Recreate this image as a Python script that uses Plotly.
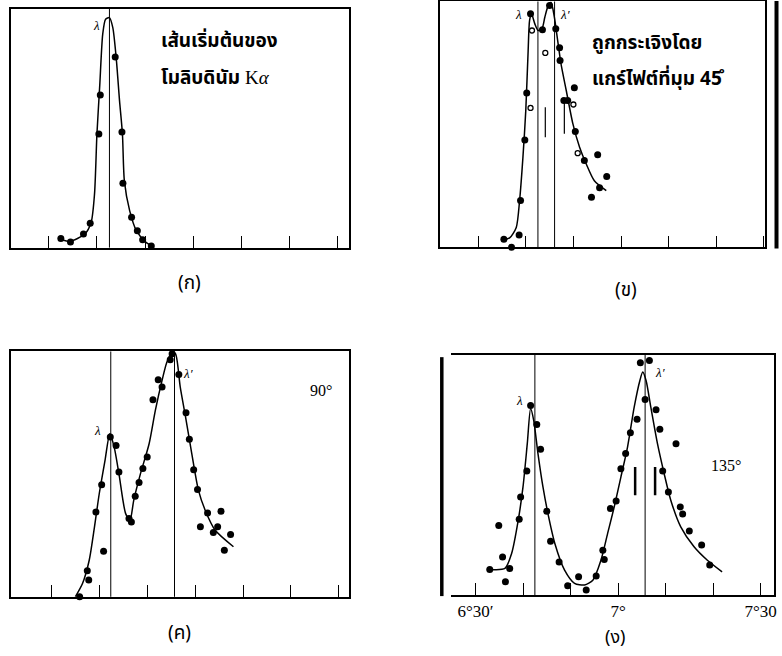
import plotly.graph_objects as go

W, H = 782, 656

# Angle axis in arcminutes above 6°; intensity in relative units (0-100)
ANGLE_TICKS = [30, 40, 50, 60, 70, 80, 90]
ANGLE_TICKTEXT = ["6°30′", "", "", "7°", "", "", "7°30"]

# (ก) primary molybdenum Kα line
a_pts_x = [32.5, 34.5, 37.2, 38.6, 40.4, 40.7, 43.8, 45.2, 45.4, 47.2, 48.4, 49.5, 51.3]
a_pts_y = [3.8, 2.4, 5.7, 10.2, 47.6, 64.0, 79.9, 48.5, 27.0, 12.7, 7.1, 3.3, 0.7]
a_fit_x = [32.3, 34.3, 37.5, 38.8, 39.5, 40.0, 40.6, 41.2, 41.8, 42.6, 43.3, 44.0, 44.7,
           45.3, 45.7, 46.8, 48.2, 50.2, 51.7]
a_fit_y = [3.6, 2.6, 5.7, 10.6, 22.5, 47.6, 68.5, 89.4, 95.7, 96.4, 92.2, 79.6, 61.5,
           47.6, 28.0, 15.5, 7.1, 2.2, 0.4]
a_lines = [42.6]

# (ข) scattered by graphite at 45°
b_pts_x = [35.4, 37.0, 38.6, 38.9, 39.8, 40.2, 41.0, 43.5, 45.0, 46.3, 47.1, 47.2, 48.0,
           48.8, 50.2, 50.4, 52.3, 55.1, 53.8, 55.5, 57.0]
b_pts_y = [3.3, 0.0, 5.0, 19.0, 43.7, 62.8, 95.0, 88.5, 98.4, 88.9, 81.2, 76.0, 59.7,
           59.7, 64.9, 47.1, 35.3, 37.7, 20.4, 24.2, 28.8]
b_open_x = [41.3, 41.0, 44.1, 50.0, 50.9]
b_open_y = [88.2, 56.7, 79.1, 58.1, 38.3]
b_fit_x = [34.9, 36.6, 38.0, 38.7, 39.4, 40.0, 40.5, 40.8, 41.2, 41.9, 42.6, 43.4, 44.0,
           44.6, 45.3, 46.0, 46.7, 47.4, 48.5, 49.9, 51.3, 52.7, 54.4, 56.9]
b_fit_y = [3.0, 3.8, 8.1, 19.0, 36.6, 55.6, 80.1, 92.3, 95.0, 90.9, 88.2, 88.9, 93.6,
           97.7, 99.7, 93.6, 84.1, 74.6, 63.8, 50.2, 40.7, 33.9, 27.1, 23.1]
b_lines = [42.55, 46.05]
b_marks_x = [44.1, 48.1]
b_marks_y0 = [44.8, 46.2]
b_marks_y1 = [57.0, 59.7]

# (ค) scattered at 90°
c_pts_x = [35.9, 37.5, 37.8, 40.9, 39.3, 40.5, 42.3, 43.5, 44.1, 46.2, 46.7, 47.5, 48.3,
           49.1, 50.0, 51.2, 52.3, 53.1, 54.8, 55.2, 56.6, 58.1, 58.8, 59.7, 60.5, 62.6,
           61.1, 63.8, 64.7, 65.4, 67.4, 66.1]
c_pts_y = [0.0, 10.6, 6.8, 18.6, 34.6, 45.7, 65.1, 61.7, 50.9, 31.9, 30.5, 41.0, 46.6,
           52.3, 57.0, 80.3, 88.5, 85.5, 96.6, 99.1, 90.6, 75.0, 64.2, 51.8, 43.7, 34.2,
           28.5, 26.2, 28.5, 34.9, 25.4, 19.0]
c_fit_x = [35.0, 36.5, 37.9, 39.0, 40.0, 41.2, 42.2, 43.1, 44.1, 45.5, 46.4, 47.2, 48.6,
           50.4, 51.7, 53.1, 54.1, 55.2, 55.9, 56.9, 58.0, 59.3, 60.7, 62.1, 64.2, 68.0]
c_fit_y = [0.0, 5.4, 14.9, 28.5, 42.1, 55.6, 66.5, 61.1, 50.2, 33.9, 31.2, 39.4, 50.2,
           62.4, 76.0, 88.2, 95.6, 99.7, 99.1, 85.5, 73.3, 58.4, 43.4, 35.3, 27.1, 20.4]
c_lines = [42.4, 55.7]

# (ง) scattered at 135°
d_pts_x = [33.0, 34.9, 35.7, 36.3, 37.2, 39.2, 39.5, 40.8, 41.6, 42.9, 43.7, 45.0, 45.8,
           47.6, 49.4, 51.7, 53.3, 55.4, 56.8, 57.1, 58.4, 59.6, 60.6, 61.6, 62.6, 64.0,
           64.7, 66.6, 65.7, 68.0, 68.8, 69.4, 70.6, 72.2, 73.1, 73.6, 75.0, 77.6, 79.3]
d_pts_y = [10.7, 29.0, 15.9, 5.5, 11.1, 31.6, 40.8, 51.6, 78.9, 71.0, 60.7, 34.9, 22.4,
           13.8, 3.9, 7.6, 2.1, 7.9, 18.7, 14.8, 36.0, 39.1, 52.6, 58.9, 67.6, 73.2,
           96.7, 97.6, 81.4, 77.1, 69.0, 51.6, 42.9, 63.0, 36.7, 33.7, 26.7, 20.8, 12.5]
d_fit_x = [32.7, 36.2, 37.6, 39.0, 40.0, 40.9, 41.6, 42.25, 43.15, 44.2, 45.25, 46.7,
           48.75, 50.85, 52.95, 54.7, 56.4, 57.8, 59.2, 60.6, 62.0, 63.4, 64.6, 65.2,
           65.9, 66.9, 68.3, 69.7, 71.1, 73.2, 76.0, 78.8, 81.9]
d_fit_y = [10.7, 11.1, 17.3, 31.2, 45.0, 63.0, 77.6, 72.7, 58.9, 45.0, 33.9, 21.5,
           10.4, 4.9, 4.2, 6.2, 14.5, 25.6, 36.7, 49.1, 61.6, 78.2, 89.3, 92.8,
           89.3, 78.2, 63.0, 50.6, 39.5, 28.4, 20.1, 14.5, 9.7]
d_lines = [42.5, 65.7]
d_marks_x = [63.6, 67.8]
d_marks_y0 = [41.5, 41.5]
d_marks_y1 = [53.3, 53.3]


def px_x(p):
    return p / W


def px_y(p):
    return 1 - p / H


panels = [
    # axis suffix, left, right, top, bottom (pixels), x range
    ("", 11, 350, 8, 247, [22.13, 92.32]),
    ("2", 442, 768, 0.5, 246.7, [22.05, 90.25]),
    ("3", 11, 350, 351, 596.7, [21.57, 92.04]),
    ("4", 453, 777, 354.3, 595, [24.9, 92.83]),
]

fig = go.Figure()

fit_style = dict(mode="lines", line=dict(color="black", width=1.5, shape="spline", smoothing=0.7),
                 hoverinfo="skip", showlegend=False)
pt_style = dict(mode="markers", marker=dict(color="black", size=7), showlegend=False,
                cliponaxis=False)

series = [
    ("", a_fit_x, a_fit_y, a_pts_x, a_pts_y),
    ("2", b_fit_x, b_fit_y, b_pts_x, b_pts_y),
    ("3", c_fit_x, c_fit_y, c_pts_x, c_pts_y),
    ("4", d_fit_x, d_fit_y, d_pts_x, d_pts_y),
]
for sfx, fx, fy, px_, py_ in series:
    fig.add_trace(go.Scatter(x=fx, y=fy, xaxis="x" + sfx, yaxis="y" + sfx, **fit_style))
    fig.add_trace(go.Scatter(x=px_, y=py_, xaxis="x" + sfx, yaxis="y" + sfx, **pt_style))

fig.add_trace(go.Scatter(x=b_open_x, y=b_open_y, xaxis="x2", yaxis="y2", mode="markers",
                         marker=dict(symbol="circle-open", color="black", size=5,
                                     line=dict(width=1.3)),
                         showlegend=False))

# short vertical marks inside (ข) and (ง)
for x, y0, y1 in zip(b_marks_x, b_marks_y0, b_marks_y1):
    fig.add_trace(go.Scatter(x=[x, x], y=[y0, y1], xaxis="x2", yaxis="y2", mode="lines",
                             line=dict(color="black", width=1.2), showlegend=False))
for x, y0, y1 in zip(d_marks_x, d_marks_y0, d_marks_y1):
    fig.add_trace(go.Scatter(x=[x, x], y=[y0, y1], xaxis="x4", yaxis="y4", mode="lines",
                             line=dict(color="black", width=2.5), showlegend=False))

shapes = []
for sfx, lines in (("", a_lines), ("2", b_lines), ("3", c_lines), ("4", d_lines)):
    for xv in lines:
        shapes.append(dict(type="line", xref="x" + sfx, yref="y" + sfx + " domain",
                           x0=xv, x1=xv, y0=0, y1=1, line=dict(color="black", width=1)))

# heavy rules along the left of (ง) and the right of (ข)
shapes.append(dict(type="line", xref="paper", yref="paper", x0=px_x(443.5), x1=px_x(443.5),
                   y0=px_y(356.7), y1=px_y(596), line=dict(color="black", width=3.5)))
shapes.append(dict(type="line", xref="paper", yref="paper", x0=px_x(779.5), x1=px_x(779.5),
                   y0=px_y(0), y1=px_y(248), line=dict(color="black", width=4)))

layout = dict(
    width=W, height=H, margin=dict(l=0, r=0, t=0, b=0),
    paper_bgcolor="white", plot_bgcolor="white", showlegend=False,
    shapes=shapes,
)

for sfx, l, r, t, b, xr in panels:
    xa = dict(domain=[px_x(l), px_x(r)], range=xr, anchor="y" + sfx,
              showline=True, linecolor="black", linewidth=1.5, mirror=True,
              ticks="inside", ticklen=12, tickwidth=1, tickcolor="black",
              tickvals=ANGLE_TICKS, showticklabels=False,
              showgrid=False, zeroline=False, fixedrange=True)
    ya = dict(domain=[px_y(b), px_y(t)], range=[0, 100], anchor="x" + sfx,
              showline=True, linecolor="black", linewidth=1.5, mirror=True,
              ticks="", showticklabels=False, showgrid=False, zeroline=False,
              fixedrange=True)
    if sfx == "4":
        xa.update(showticklabels=True, ticktext=ANGLE_TICKTEXT, ticklabeloverflow="allow",
                  tickfont=dict(family="Liberation Serif", size=17, color="black"))
        ya.update(mirror=False, side="right")
    layout["xaxis" + sfx] = xa
    layout["yaxis" + sfx] = ya

fig.update_layout(**layout)

THAI = "Noto Sans Thai, Noto Sans, DejaVu Sans, sans-serif"
SERIF = "Liberation Serif, DejaVu Serif, serif"


def note(text, x, y, size, family=THAI, xanchor="center"):
    fig.add_annotation(text=text, x=px_x(x), y=px_y(y), xref="paper", yref="paper",
                       showarrow=False, xanchor=xanchor, yanchor="middle",
                       font=dict(family=family, size=size, color="black"))


note("<b>เส้นเริ่มต้นของ</b>", 160, 41, 19, xanchor="left")
note("<b>โมลิบดินัม</b> <span style='font-family:Liberation Serif'>K<i>α</i></span>", 160, 78,
     19, xanchor="left")
note("<b>ถูกกระเจิงโดย</b>", 592, 43, 19, xanchor="left")
note("<b>แกร์ไฟต์ที่มุม 4\u200b5\u030a</b>", 592, 79, 19, xanchor="left")

note("<i>λ</i>", 97, 25, 13, SERIF)
note("<i>λ</i>", 520, 14, 13, SERIF)
note("<i>λ′</i>", 567, 14, 13, SERIF)
note("<i>λ</i>", 98, 430, 13, SERIF)
note("<i>λ′</i>", 189, 373, 13, SERIF)
note("<i>λ</i>", 522, 400, 13, SERIF)
note("<i>λ′</i>", 663, 372, 13, SERIF)

note("90°", 322, 390, 16, SERIF)
note("135°", 729, 465, 16, SERIF)

note("(ก)", 190, 283, 19)
note("(ข)", 628, 290, 19)
note("(ค)", 180, 633, 19)
note("(ง)", 617, 637, 18)

fig.write_html("out.html")
